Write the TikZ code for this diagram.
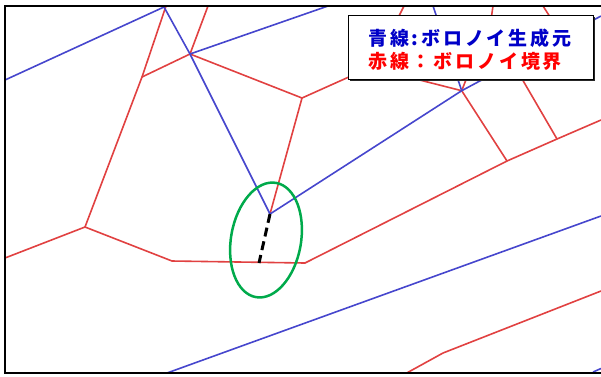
\documentclass[tikz,border=0pt]{standalone}
\usepackage{fontspec}
\usetikzlibrary{shapes.geometric}
\newfontfamily\jp[LetterSpace=15]{Noto Sans CJK JP}
\definecolor{voroblue}{RGB}{70,70,205}
\definecolor{vorored}{RGB}{225,65,65}
\definecolor{ellgreen}{RGB}{0,170,75}
\definecolor{txtblue}{RGB}{0,0,200}
\definecolor{txtred}{RGB}{255,0,0}
\begin{document}
\begin{tikzpicture}[x=1pt,y=-1pt,
  gen/.style={draw=voroblue,line width=1.6pt},
  bnd/.style={draw=vorored,line width=1.6pt},
  frameline/.style={draw=black,line width=2pt},
  legtext/.style={font=\jp\bfseries\fontsize{19}{22}\selectfont,inner sep=0pt,anchor=base west}]
\useasboundingbox (0,0) rectangle (601,376);
% vertices
\coordinate (b1) at (5,80);
\coordinate (b2) at (164,7);
\coordinate (b3) at (190,54);
\coordinate (b4) at (270,214);
\coordinate (b5) at (328,6);
\coordinate (b6) at (461.7,90.7);
\coordinate (b7) at (433,6);
\coordinate (b8) at (601,16);
\coordinate (b9) at (167,373);
\coordinate (b10) at (601,216);
\coordinate (b11) at (593,372);
\coordinate (b12) at (601,368.5);
\coordinate (r1) at (166,6);
\coordinate (r2) at (142,77);
\coordinate (r3) at (85,227);
\coordinate (r4) at (208,6);
\coordinate (r5) at (302,98);
\coordinate (r6) at (360,72);
\coordinate (r7) at (5,258);
\coordinate (r8) at (172,261);
\coordinate (r9) at (305,263);
\coordinate (r10) at (507,161);
\coordinate (r11) at (557,139);
\coordinate (r12) at (601,120);
\coordinate (r13) at (518,72);
\coordinate (r14) at (400,75);
\coordinate (r15) at (469,72);
\coordinate (t1a) at (404,6);
\coordinate (t1b) at (397,20);
\coordinate (t2a) at (493,6);
\coordinate (t2b) at (491,20);
\coordinate (t3a) at (543,6);
\coordinate (t3b) at (552,20);
\coordinate (r16) at (406.7,373);
\coordinate (r17) at (443,353);
\coordinate (r18) at (601,291);
% red boundaries
\draw[bnd] (r1) -- (r2) -- (r3);
\draw[bnd] (r2) -- (b3);
\draw[bnd] (r4) -- (b3) -- (r5) -- (b4);
\draw[bnd] (r5) -- (r6);
\draw[bnd] (r7) -- (r3) -- (r8) -- (r9) -- (r10) -- (r11) -- (r12);
\draw[bnd] (r10) -- (b6);
\draw[bnd] (r11) -- (r13);
\draw[bnd] (b6) -- (r14);
\draw[bnd] (b6) -- (r15);
\draw[bnd] (t1a) -- (t1b);
\draw[bnd] (t2a) -- (t2b);
\draw[bnd] (t3a) -- (t3b);
\draw[bnd] (r16) -- (r17) -- (r18);
% blue generators
\draw[gen] (b1) -- (b2) -- (b3) -- (b4) -- (b6) -- (b8);
\draw[gen] (b3) -- (b5);
\draw[gen] (b7) -- (b6);
\draw[gen] (b9) -- (b10);
\draw[gen] (b11) -- (b12);
% frame
\coordinate (f1) at (601,6);
\coordinate (f2) at (5,6);
\coordinate (f3) at (5,373);
\coordinate (f4) at (601,373);
\draw[frameline,line cap=rect] (f1) -- (f2) -- (f3) -- (f4);
% highlight
\node[draw=ellgreen,line width=2.5pt,ellipse,minimum width=70pt,minimum height=116pt,inner sep=0pt,rotate=-10] (ell) at (266,240) {};
\coordinate (d2) at (259,263);
\draw[black,line width=3pt,dash pattern=on 9pt off 5pt] (b4) -- (d2);
% legend
\coordinate (l1) at (350,17);
\coordinate (l2) at (594.5,80.5);
\coordinate (l3) at (348,15);
\coordinate (l4) at (593,79);
\fill[black!85] (l1) rectangle (l2);
\draw[fill=white,draw=black,line width=1pt] (l3) rectangle (l4);
\node[legtext,text=txtblue] (leg1) at (368,45) {青線:ボロノイ生成元};
\node[legtext,text=txtred] (leg2) at (368,68) {赤線：ボロノイ境界};
\end{tikzpicture}
\end{document}
